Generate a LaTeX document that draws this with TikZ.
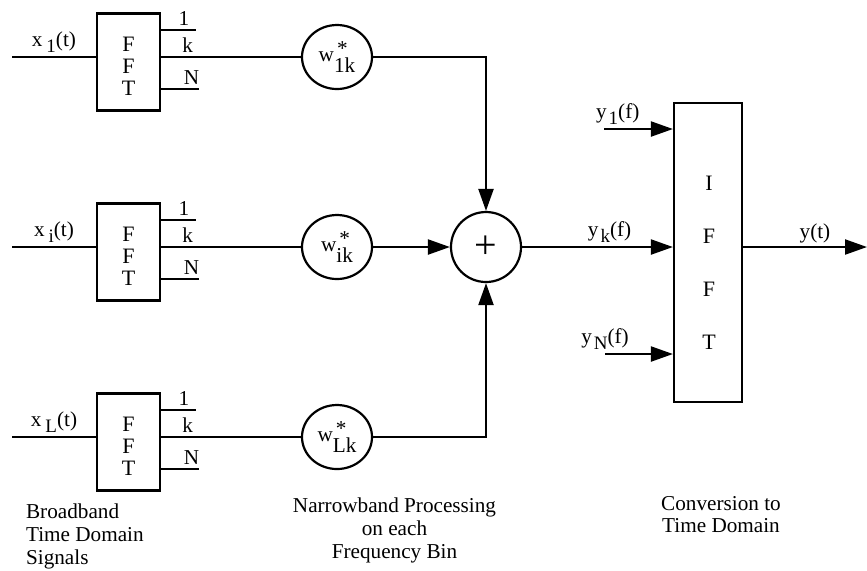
\documentclass[tikz,border=0pt]{standalone}
\usepackage{fontspec}
\setmainfont{Liberation Serif}
\usetikzlibrary{arrows.meta,calc,shapes.geometric}

\newcommand{\lowsub}[1]{\raisebox{-3pt}{\fontsize{9.5}{9.5}\selectfont #1}}
\newcommand{\wgt}[1]{w\rlap{\raisebox{3.2pt}{\kern1.5pt*}}\raisebox{-5.5pt}{#1}}
\newcommand{\fftword}{\raisebox{0pt}[\dimexpr\height+7pt\relax][\depth]{\begin{tabular}{@{}c@{}}F\\F\\T\end{tabular}}}

\begin{document}
\begin{tikzpicture}[x=0.5pt, y=-0.5pt,
    line width=1.1pt,
    font=\fontsize{10.6}{11.3}\selectfont,
    fftbox/.style={draw, minimum width=31.5pt, minimum height=48.5pt, inner sep=0pt, font=\fontsize{11}{11}\selectfont},
    wnode/.style={draw, ellipse, minimum width=35pt, minimum height=32pt, inner sep=0pt},
    sumnode/.style={draw, circle, minimum size=35pt, inner sep=0pt, font=\fontsize{20}{20}\selectfont},
    lbl/.style={inner sep=1.5pt},
    arr/.style={-{Triangle[length=11pt,width=7.5pt]}}
]
\useasboundingbox (0,0) rectangle (867,570);

% one row per input signal
\foreach \row/\cy in {1/62, i/252, L/442}
{
    \node[fftbox] (fft\row) at (128.5,\cy) {\fftword};
    \coordinate (xin\row) at (12,\cy-5);
    \node[wnode] (w\row) at (337,\cy-5) {\wgt{\row k}};
    \draw (xin\row) -- node[lbl, above] {x\kern2pt\lowsub{\row}(t)} (xin\row -| fft\row.west);
    \draw ($(fft\row.east)+(0,-32)$) -- node[lbl, above, pos=0.65] {1} ++(35,0);
    \draw ($(fft\row.east)+(0,27)$) -- node[lbl, above, pos=0.8] {N} ++(38,0);
    \draw (w\row.west -| fft\row.east) -- node[lbl, above, pos=0.19] {k} (w\row.west);
}

\node[sumnode] (sum) at (486,247) {+};
\draw[arr] (w1.east) -| (sum.north);
\draw[arr] (wi) -- (sum);
\draw[arr] (wL.east) -| (sum.south);

% inverse transform
\node[draw, minimum width=34pt, minimum height=149.5pt, inner sep=0pt] (ifft) at (708,252.5) {};
\node[align=center, inner sep=0pt, font=\fontsize{11}{26.5}\selectfont] (ifftlbl) at (709,263) {I\\F\\F\\T};
\coordinate (y1in) at (604,129);
\coordinate (yNin) at (605,354);
\coordinate (yout) at (867,247);
\draw[arr] (y1in) -- node[lbl, above, pos=0.2] {y\kern1pt\lowsub{1}(f)} (y1in -| ifft.west);
\draw[arr] (sum.east) -- node[lbl, above, pos=0.58] {y\kern1pt\lowsub{k}(f)} (sum.east -| ifft.west);
\draw[arr] (yNin) -- node[lbl, above, pos=0] {y\kern1pt\lowsub{N}(f)} (yNin -| ifft.west);
\draw[arr] (ifft.east |- sum.east) -- node[lbl, above, pos=0.58] {y(t)} (yout);

% captions
\node[anchor=north west, align=left, inner sep=0pt] (bbtxt) at (25,503) {Broadband\\Time Domain\\Signals};
\node[anchor=north, align=center, inner sep=0pt] (nbtxt) at (394.5,497) {Narrowband Processing\\on each\\Frequency Bin};
\node[anchor=north, align=center, inner sep=0pt] (cvtxt) at (721,495) {Conversion to\\Time Domain};
\end{tikzpicture}
\end{document}
